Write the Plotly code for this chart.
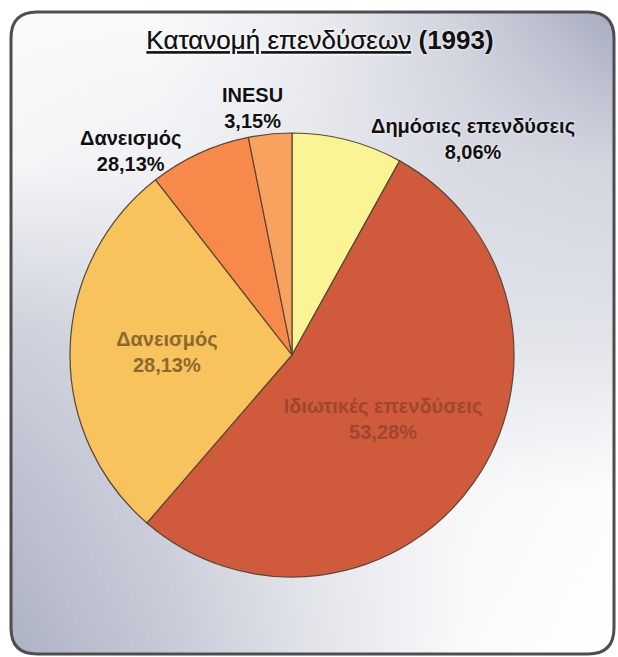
"""
Pie chart of investment allocation (1993), on a framed gradient background.
"""

import plotly.graph_objects as go

W, H = 618, 657

# Slice data, clockwise from 12 o'clock
slice_names = ["Δημόσιες επενδύσεις", "Ιδιωτικές επενδύσεις", "Δανεισμός", "Δανεισμός", "INESU"]
slice_values = [8.06, 53.28, 28.13, 7.38, 3.15]
# labels as printed on the original chart (the small orange slice repeats 28,13%)
label_pcts = ["8,06%", "53,28%", "28,13%", "28,13%", "3,15%"]
slice_colors = ["#FAF494", "#CF5A3C", "#F8C25C", "#F78A4A", "#F7A25E"]
inside_colors = [None, "#A04630", "#8A6A2C", None, None]
is_inside = [False, True, True, False, False]

# Background shading: a coarse grid, smoothed (0 = white, 1 = blue-grey)
bg_x = [0, 155, 310, 465, 618]
bg_y = [0, 165, 330, 490, 657]
bg_z = [
    [0.05, 0.05, 0.20, 0.50, 0.95],
    [0.10, 0.15, 0.25, 0.40, 0.45],
    [0.50, 0.40, 0.25, 0.30, 0.30],
    [0.70, 0.50, 0.25, 0.08, 0.03],
    [0.85, 0.60, 0.30, 0.05, 0.00],
]

# Pie geometry in pixels
cx, cy, r = 292, 355, 222
FONT = "Liberation Sans, Arial"

fig = go.Figure()

fig.add_trace(
    go.Heatmap(
        x=bg_x,
        y=bg_y,
        z=bg_z,
        zsmooth="best",
        zmin=0,
        zmax=1,
        colorscale=[[0, "#FFFFFF"], [1, "#9CA2B8"]],
        showscale=False,
        hoverinfo="skip",
    )
)

fig.add_trace(
    go.Pie(
        labels=[f"{n}_{i}" for i, n in enumerate(slice_names)],
        values=slice_values,
        text=[
            f"<b>{n}<br>{p}</b>" if inside else ""
            for n, p, inside in zip(slice_names, label_pcts, is_inside)
        ],
        textinfo="text",
        textposition="inside",
        insidetextorientation="horizontal",
        textfont=dict(family=FONT, size=20, color=[c or "#111" for c in inside_colors]),
        sort=False,
        direction="clockwise",
        rotation=0,
        marker=dict(colors=slice_colors, line=dict(color="#5A4636", width=1.2)),
        domain=dict(
            x=[(cx - r) / W, (cx + r) / W],
            y=[(H - cy - r) / H, (H - cy + r) / H],
        ),
        showlegend=False,
        hoverinfo="skip",
    )
)

# Outside labels, placed where the original chart had them
outside_xy = {0: (473, 139), 3: (130, 151), 4: (252, 108)}
for i, (ax, ay) in outside_xy.items():
    fig.add_annotation(
        x=ax,
        y=ay,
        text=f"<b>{slice_names[i]}<br>{label_pcts[i]}</b>",
        showarrow=False,
        xanchor="center",
        yanchor="middle",
        font=dict(family=FONT, size=20, color="#111111", shadow="0px 0px 3px white"),
    )

# White corners outside the rounded frame, then the frame itself
x0, y0, x1, y1, rr = 11, 12, 614, 654, 26
frame = (
    f"M{x0 + rr},{y0} L{x1 - rr},{y0} Q{x1},{y0} {x1},{y0 + rr} "
    f"L{x1},{y1 - rr} Q{x1},{y1} {x1 - rr},{y1} "
    f"L{x0 + rr},{y1} Q{x0},{y1} {x0},{y1 - rr} "
    f"L{x0},{y0 + rr} Q{x0},{y0} {x0 + rr},{y0} Z"
)
fig.add_shape(
    type="path",
    path=f"M-5,-5 L{W + 5},-5 L{W + 5},{H + 5} L-5,{H + 5} Z " + frame,
    fillrule="evenodd",
    fillcolor="white",
    line_width=0,
    layer="above",
)
fig.add_shape(type="path", path=frame, line=dict(color="#4E4E4E", width=3), layer="above")

fig.update_layout(
    width=W,
    height=H,
    margin=dict(l=0, r=0, t=0, b=0),
    paper_bgcolor="white",
    plot_bgcolor="white",
    xaxis=dict(range=[0, W], visible=False, fixedrange=True),
    yaxis=dict(range=[H, 0], visible=False, fixedrange=True),
    title=dict(
        text="<u>Κατανομή επενδύσεων</u> <b>(1993)</b>",
        x=320 / W,
        y=1 - 40 / H,
        xanchor="center",
        yanchor="middle",
        font=dict(family=FONT, size=26, color="#111111", shadow="0px 0px 3px white"),
    ),
)

fig.write_html(
    "out.html",
    config={"displayModeBar": False},
    post_script="document.body.style.margin = '0';",
)
